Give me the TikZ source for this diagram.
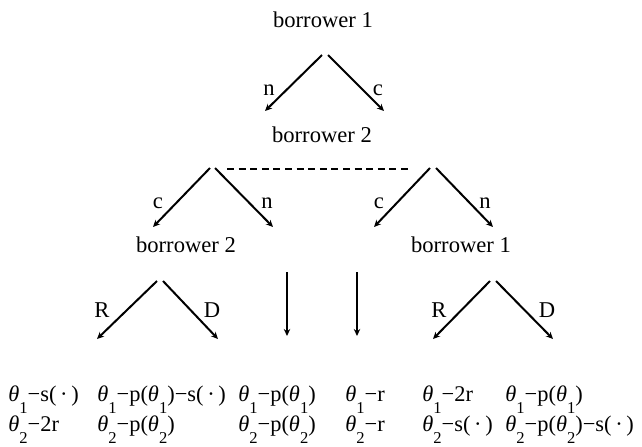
\documentclass[tikz,border=0pt]{standalone}
\usepackage{fontspec}
\setmainfont{Liberation Serif}
\usetikzlibrary{arrows.meta}
\newcommand{\thsub}[1]{\textit{θ}\raisebox{-6pt}{\fontsize{8.3pt}{9pt}\selectfont #1}}
\newcommand{\dotarg}{(\,·\,)}
\begin{document}
\begin{tikzpicture}[x=0.5pt,y=-0.5pt,
  font=\fontsize{11.3pt}{13pt}\selectfont,
  arr/.style={line width=1pt,-{Stealth[length=3.5pt,width=3.2pt]}},
  lbl/.style={anchor=base,inner sep=0pt},
  pl/.style={anchor=base,inner sep=0pt},
  pay/.style={anchor=base west,inner sep=0pt,font=\fontsize{11.2pt}{12pt}\selectfont},
  dsh/.style={line width=1pt,dash pattern=on 3.5pt off 2.3pt}]
\useasboundingbox (0,0) rectangle (642,446);
% players
\node[pl] (b1) at (323,27) {borrower 1};
\node[pl] (b2) at (322,142) {borrower 2};
\node[pl] (b2l) at (186,252) {borrower 2};
\node[pl] (b1r) at (461,252) {borrower 1};
% apex coordinates
\coordinate (s1l) at (322,55); \coordinate (s1r) at (328,55);
\coordinate (e1n) at (265,111); \coordinate (e1c) at (384,111);
\coordinate (s2ll) at (210,168); \coordinate (s2lr) at (215,168);
\coordinate (s2rl) at (430,168); \coordinate (s2rr) at (436,168);
\coordinate (e2a) at (153,227); \coordinate (e2b) at (273,227);
\coordinate (e2c) at (374,227); \coordinate (e2d) at (493,227);
\coordinate (d1) at (227,169); \coordinate (d2) at (408,169);
\coordinate (s3ll) at (157,281); \coordinate (s3lr) at (163,281);
\coordinate (s3rl) at (490,281); \coordinate (s3rr) at (496,281);
\coordinate (e3a) at (97,339); \coordinate (e3b) at (218,339);
\coordinate (e3c) at (433,339); \coordinate (e3d) at (553,339);
\coordinate (v1s) at (287,272); \coordinate (v1e) at (287,336);
\coordinate (v2s) at (357,272); \coordinate (v2e) at (357,336);
% connectors
\draw[arr] (s1l) -- (e1n);
\draw[arr] (s1r) -- (e1c);
\draw[arr] (s2ll) -- (e2a);
\draw[arr] (s2lr) -- (e2b);
\draw[arr] (s2rl) -- (e2c);
\draw[arr] (s2rr) -- (e2d);
\draw[dsh] (d1) -- (d2);
\draw[arr] (s3ll) -- (e3a);
\draw[arr] (s3lr) -- (e3b);
\draw[arr] (s3rl) -- (e3c);
\draw[arr] (s3rr) -- (e3d);
\draw[arr] (v1s) -- (v1e);
\draw[arr] (v2s) -- (v2e);
% labels
\node[lbl] (ln1) at (269,95) {n};
\node[lbl] (lc1) at (378,95) {c};
\node[lbl] (lc2) at (158,208) {c};
\node[lbl] (ln2) at (267,208) {n};
\node[lbl] (lc3) at (379,208) {c};
\node[lbl] (ln3) at (485,208) {n};
\node[lbl] (lR1) at (102,317) {R};
\node[lbl] (lD1) at (212,317) {D};
\node[lbl] (lR2) at (439,317) {R};
\node[lbl] (lD2) at (547,317) {D};
% payoffs
\node[pay] (p1a) at (8,401) {\thsub{1}−s\dotarg};
\node[pay] (p1b) at (8,431) {\thsub{2}−2r};
\node[pay] (p2a) at (97,401) {\thsub{1}−p(\thsub{1})−s\dotarg};
\node[pay] (p2b) at (97,431) {\thsub{2}−p(\thsub{2})};
\node[pay] (p3a) at (238,401) {\thsub{1}−p(\thsub{1})};
\node[pay] (p3b) at (238,431) {\thsub{2}−p(\thsub{2})};
\node[pay] (p4a) at (345,401) {\thsub{1}−r};
\node[pay] (p4b) at (345,431) {\thsub{2}−r};
\node[pay] (p5a) at (422,401) {\thsub{1}−2r};
\node[pay] (p5b) at (422,431) {\thsub{2}−s\dotarg};
\node[pay] (p6a) at (505,401) {\thsub{1}−p(\thsub{1})};
\node[pay] (p6b) at (505,431) {\thsub{2}−p(\thsub{2})−s\dotarg};
\end{tikzpicture}
\end{document}
